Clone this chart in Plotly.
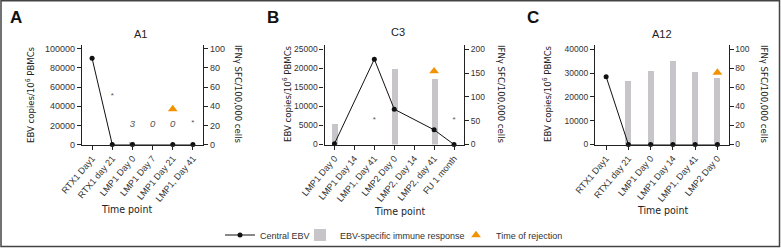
import plotly.graph_objects as go

W, H = 781, 250
def px(x): return x / W
def py(y): return 1 - y / H

# ---------------- data ----------------
cats_A = ["RTX1 Day1", "RTX1 day 21", "LMP1 Day 0", "LMP1 Day 7", "LMP1 Day 21", "LMP1, Day 41"]
ebv_A = [90000, 0, 0, None, 0, 0]
ifn_A = [None, None, 3, None, None, None]
rej_A = [None, None, None, None, 37, None]
star_A = [None, 51, None, None, None, 22.5]
num_A_text = [None, None, "3", "0", "0", None]
num_A = [None, None, 21, 21, 21, None]

cats_B = ["LMP1 Day 0", "LMP1 Day 14", "LMP1, Day 41", "LMP2 Day 0", "LMP2, Day 14", "LMP2, day 41", "FU 1 month"]
ebv_B = [200, None, 22400, 9270, None, 3850, 0]
ifn_B = [43, None, None, 159, None, 137, None]
rej_B = [None, None, None, None, None, 154, None]
star_B = [None, None, 51, None, None, None, 51]

cats_C = ["RTX1 Day1", "RTX1 day 21", "LMP1 Day 0", "LMP1 Day 14", "LMP1, Day 41", "LMP2 Day 0"]
ebv_C = [28500, 0, 0, 0, 0, 0]
ifn_C = [None, 67, 77.5, 88, 76.5, 69.5]
rej_C = [None, None, None, None, None, 75.5]

titles = ["A1", "C3", "A12"]
letters = ["A", "B", "C"]
left_title = "EBV copies/10<sup>6</sup> PBMCs"
right_title = "IFNγ SFC/100,000 cells"
legend_names = ["Central EBV", "EBV-specific immune response", "Time of rejection"]

# ---------------- style ----------------
FONT = "Liberation Sans, Arial, Helvetica, sans-serif"
NARROW = "Liberation Sans Narrow, Arial Narrow, DejaVu Sans Condensed, sans-serif"
BAR = "#c7c5ca"
ORANGE = "#f39200"
AX = "#222222"
TXT = "#333333"

fig = go.Figure()

panels = [
    dict(cats=cats_A, ebv=ebv_A, ifn=ifn_A, rej=rej_A, star=star_A, xd=(82, 203),
         lr=103900, rr=103.9, ldt=20000, rdt=20, bw=0.3, tf=9,
         title_xy=(140, 34), letter_xy=(16, 18), ltx=30, rtx=239, tp=(126, 209)),
    dict(cats=cats_B, ebv=ebv_B, ifn=ifn_B, rej=rej_B, star=star_B, xd=(324.5, 464),
         lr=26130, rr=209, ldt=5000, rdt=50, bw=0.3, tf=8.5,
         title_xy=(398, 32), letter_xy=(273, 18), ltx=287, rtx=502, tp=(399, 211)),
    dict(cats=cats_C, ebv=ebv_C, ifn=ifn_C, rej=rej_C, star=None, xd=(595, 728.5),
         lr=41800, rr=104.5, ldt=10000, rdt=20, bw=0.26, tf=8.5,
         title_xy=(662, 34), letter_xy=(533, 18), ltx=547, rtx=765, tp=(662, 210)),
]

ydom = [py(144.5), py(45)]
annotations = []
layout_axes = {}

def ann(text, x, y, size, family=FONT, angle=0, color="#222"):
    return dict(text=text, x=px(x), y=py(y), xref="paper", yref="paper", showarrow=False,
                xanchor="center", yanchor="middle", textangle=angle,
                font=dict(family=family, size=size, color=color))

def keep(cats, vals, texts):
    idx = [k for k, v in enumerate(vals) if v is not None]
    return [cats[k] for k in idx], [vals[k] for k in idx], [texts[k] for k in idx]

for i, p in enumerate(panels):
    xn = "" if i == 0 else str(i + 1)
    xref = "x" + xn
    yr_n = 2 * i + 1          # IFN (right, base)
    yl_n = 2 * i + 2          # EBV (left, overlaying)
    yr_ref = "y" + ("" if yr_n == 1 else str(yr_n))
    yl_ref = "y" + str(yl_n)
    n = len(p["cats"])
    first = (i == 0)

    fig.add_trace(go.Bar(x=p["cats"], y=p["ifn"], xaxis=xref, yaxis=yr_ref,
                         marker=dict(color=BAR, line=dict(width=0)), width=p["bw"],
                         name=legend_names[1], legend="legend2",
                         showlegend=first))
    fig.add_trace(go.Scatter(x=p["cats"], y=p["rej"], xaxis=xref, yaxis=yr_ref, mode="markers",
                             marker=dict(symbol="triangle-up", size=8.5, color=ORANGE),
                             name=legend_names[2], legend="legend3",
                             showlegend=first, cliponaxis=False))
    if p["star"] is not None:
        sx, sy, st = keep(p["cats"], p["star"], ["*"] * n)
        fig.add_trace(go.Scatter(x=sx, y=sy, xaxis=xref, yaxis=yr_ref, mode="text", text=st,
                                 textfont=dict(size=8, color="#555555", family=FONT),
                                 showlegend=False, hoverinfo="skip"))
    if i == 0:
        nx, ny, nt = keep(p["cats"], num_A, num_A_text)
        fig.add_trace(go.Scatter(x=nx, y=ny, xaxis=xref, yaxis=yr_ref, mode="text", text=nt,
                                 textfont=dict(size=9.5, color="#555555", family=FONT, style="italic"),
                                 showlegend=False, hoverinfo="skip"))
    fig.add_trace(go.Scatter(x=p["cats"], y=p["ebv"], xaxis=xref, yaxis=yl_ref,
                             mode="lines+markers", connectgaps=True,
                             line=dict(color="#111111", width=1),
                             marker=dict(color="#111111", size=5),
                             name=legend_names[0], legend="legend",
                             showlegend=first, cliponaxis=False))

    common_y = dict(showline=True, linecolor=AX, linewidth=1.3, ticks="outside", ticklen=4,
                    tickcolor=AX, tickwidth=1, showgrid=False, zeroline=False, automargin=False,
                    tickformat="d",
                    tickfont=dict(family=FONT, size=p["tf"], color=TXT), domain=ydom)
    layout_axes["xaxis" + xn] = dict(domain=[px(p["xd"][0]), px(p["xd"][1])], anchor=yr_ref,
                                     type="category", categoryorder="array", categoryarray=p["cats"],
                                     range=[-0.5, n - 0.5], showline=True, linecolor=AX, linewidth=1.3,
                                     ticks="outside", ticklen=4, tickcolor=AX, tickangle=-50,
                                     showgrid=False, zeroline=False, automargin=False,
                                     tickfont=dict(family=FONT, size=9, color=TXT))
    layout_axes["yaxis" + ("" if yr_n == 1 else str(yr_n))] = dict(
        common_y, anchor=xref, side="right", range=[0, p["rr"]], dtick=p["rdt"], tick0=0)
    layout_axes["yaxis" + str(yl_n)] = dict(
        common_y, anchor=xref, side="left", overlaying=yr_ref, range=[0, p["lr"]],
        dtick=p["ldt"], tick0=0)

    annotations.append(ann(titles[i], *p["title_xy"], 11))
    annotations.append(ann("<b>" + letters[i] + "</b>", *p["letter_xy"], 17, color="#111"))
    annotations.append(ann(left_title, p["ltx"], 94, 9.5, family=NARROW, angle=-90))
    annotations.append(ann(right_title, p["rtx"], 94, 9.5, family=NARROW, angle=90))
    annotations.append(ann("Time point", *p["tp"], 10.5, family=NARROW))

leg_common = dict(orientation="h", xanchor="left", yanchor="middle", y=py(235),
                  font=dict(family=FONT, size=9, color=TXT), bgcolor="rgba(0,0,0,0)",
                  itemwidth=30)

fig.update_layout(
    width=W, height=H, margin=dict(l=0, r=0, t=0, b=0, autoexpand=False),
    paper_bgcolor="white", plot_bgcolor="white",
    barmode="overlay", bargap=0,
    annotations=annotations,
    shapes=[dict(type="rect", xref="paper", yref="paper", x0=px(1), x1=px(779.5),
                 y0=py(246.5), y1=py(0.8), line=dict(color="#444444", width=1.5))],
    legend=dict(leg_common, x=px(220)),
    legend2=dict(leg_common, x=px(300)),
    legend3=dict(leg_common, x=px(456)),
    **layout_axes,
)

fig.write_html("out.html", config={"displayModeBar": False},
               post_script="document.body.style.margin='0';document.body.style.padding='0';")
